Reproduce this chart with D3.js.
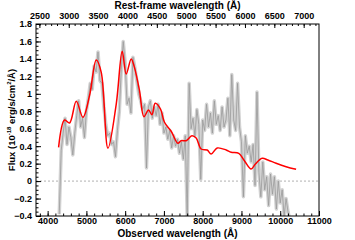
<!DOCTYPE html>
<html>
<head>
<meta charset="utf-8">
<script src="https://cdnjs.cloudflare.com/ajax/libs/d3/7.8.5/d3.min.js"></script>
<style>
	body{margin:0;background:#fff;}
	.chart{width:355px;height:240px;}
	text{font-family:"Liberation Sans",Arial,sans-serif;font-weight:bold;fill:#000;}
</style>
</head>
<body>
<div class="chart"></div>
<script>
//Data
const REDSHIFT_FACTOR = 1.515;

//observed spectrum, 50 A step starting at 4300 A
const specStart = 4300;
const specStep = 50;
const specFlux = [
	-0.38, 0.35, 0.55, 0.72, 0.42, 0.62, 0.50, 0.30, 0.55, 0.75,
	0.92, 0.62, 0.72, 0.50, 0.80, 0.95, 1.12, 1.05, 1.32, 1.25,
	1.48, 1.15, 1.12, 0.85, 0.65, 0.52, 0.55, 0.42, 0.45, 0.28,
	0.58, 0.80, 1.28, 1.60, 1.35, 0.88, 0.95, 0.78, 1.42, 1.30,
	1.15, 1.00, 0.92, 0.82, 0.88, 0.15, 0.85, 0.92, 0.72, 0.85,
	0.75, 0.88, 0.65, 0.78, 0.55, 0.62, 0.48, 0.58, 0.38, 0.52,
	0.40, 0.48, 0.32, 0.45, 0.25, 0.52, -0.40, 1.12, 0.60, 0.72,
	0.52, 0.82, 0.65, 0.02, 0.70, 0.58, 0.88, 0.62, 0.78, 0.55,
	0.92, 0.65, 0.75, 0.58, 0.85, 0.62, 0.70, 0.95, 0.52, 1.22,
	0.70, 0.58, 1.12, 0.62, 0.45, -0.18, 0.52, 0.32, 0.40, 0.22,
	0.42, -0.05, 1.02, 0.10, -0.18, 0.22, -0.10, 0.05, -0.28, 0.08,
	-0.15, 0.05, -0.32, 0.00, -0.25, -0.10, -0.40, -0.20, -0.35, -0.45
];
const specWave = specFlux.map(function(d,i){return specStart + i*specStep});

//smooth model (red)
const modelWave = [4283,4437,4566,4739,4911,5081,5254,5383,5556,5770,5924,6027,6156,6241,6370,6483,6602,6690,6775,6912,
	7014,7187,7360,7445,7574,7721,7832,7960,8115,8218,8373,8605,8734,8932,9076,9249,9360,9533,9680,9894,10151,10409];
const modelFlux = [0.387,0.70,0.666,0.914,0.731,0.979,1.388,1.246,0.376,0.883,1.487,1.227,1.40,1.30,1.036,0.738,0.815,0.761,0.891,0.826,
	0.674,0.571,0.433,0.463,0.463,0.52,0.494,0.368,0.356,0.31,0.379,0.356,0.33,0.318,0.234,0.139,0.196,0.261,0.242,0.204,0.165,0.135];

const xTicks = [4000,5000,6000,7000,8000,9000,10000,11000];
const yTicks = [-0.4,-0.2,0,0.2,0.4,0.6,0.8,1,1.2,1.4,1.6,1.8];
const restTicks = [2500,3000,3500,4000,4500,5000,5500,6000,6500,7000];

//Prep work
const W = 355;
const H = 240;
const margin = {t:24, r:36, b:24, l:36};
const w = W - margin.l - margin.r;
const h = H - margin.t - margin.b;

const svg = d3.select('.chart')
	.append('svg')
		.attr('width', W)
		.attr('height', H);

const plot = svg.append('g')
	.attr('class','plot')
	.attr('transform', `translate(${margin.l}, ${margin.t})`);

const scaleX = d3.scaleLinear().domain([3700, 11000]).range([0, w]);
const scaleRest = d3.scaleLinear().domain([3700/REDSHIFT_FACTOR, 11000/REDSHIFT_FACTOR]).range([0, w]);
const scaleY = d3.scaleLinear().domain([-0.4, 1.8]).range([h, 0]);

svg.append('defs').append('clipPath').attr('id','clip')
	.append('rect').attr('width', w).attr('height', h);

drawData();
drawAxes();

function drawData(){

	//zero line
	plot.append('line')
		.attr('x1', 0).attr('x2', w)
		.attr('y1', scaleY(0)).attr('y2', scaleY(0))
		.style('stroke', '#b0b0b0')
		.style('stroke-width', 1)
		.style('stroke-dasharray', '2,2');

	const spec = specWave.map(function(d,i){return {x:d, y:specFlux[i]}});
	const model = modelWave.map(function(d,i){return {x:d, y:modelFlux[i]}});

	const line = d3.line()
		.x(function(d){return scaleX(d.x)})
		.y(function(d){return scaleY(d.y)});

	const g = plot.append('g').attr('clip-path','url(#clip)');

	g.append('path')
		.datum(spec)
		.attr('d', line)
		.style('fill','none')
		.style('stroke','#d2d2d2')
		.style('stroke-width', 3.5)
		.style('stroke-linejoin','round');

	g.append('path')
		.datum(spec)
		.attr('d', line)
		.style('fill','none')
		.style('stroke','#9a9a9a')
		.style('stroke-width', 0.8);

	g.append('path')
		.datum(model)
		.attr('d', line.curve(d3.curveCatmullRom))
		.style('fill','none')
		.style('stroke','#ff0000')
		.style('stroke-width', 1.5);

}

function drawAxes(){

	const axisStyle = function(sel){
		sel.select('.domain').remove();
		sel.selectAll('line').style('stroke','#000').style('stroke-width',1);
		sel.selectAll('text').style('font-size','9px').style('font-weight','bold');
	};

	//bottom
	plot.append('g')
		.attr('transform', `translate(0, ${h})`)
		.call(d3.axisBottom(scaleX).tickValues(d3.range(3800, 11001, 200)).tickSize(-2.5).tickFormat(''))
		.call(axisStyle);
	plot.append('g')
		.attr('transform', `translate(0, ${h})`)
		.call(d3.axisBottom(scaleX).tickValues(xTicks).tickSize(-5).tickPadding(2).tickFormat(d3.format('d')))
		.call(axisStyle);

	//left
	plot.append('g')
		.call(d3.axisLeft(scaleY).tickValues(d3.range(-0.4, 1.801, 0.05)).tickSize(-2.5).tickFormat(''))
		.call(axisStyle);
	plot.append('g')
		.call(d3.axisLeft(scaleY).tickValues(yTicks).tickSize(-5).tickPadding(4).tickFormat(function(d){return d3.format('')(+d.toFixed(1))}))
		.call(axisStyle);

	//top (rest frame)
	plot.append('g')
		.call(d3.axisTop(scaleRest).tickValues(d3.range(2500, 7201, 100)).tickSize(-2).tickFormat(''))
		.call(axisStyle);
	plot.append('g')
		.call(d3.axisTop(scaleRest).tickValues(restTicks).tickSize(-4).tickPadding(5).tickFormat(d3.format('d')))
		.call(axisStyle);

	//frame
	plot.append('rect')
		.attr('width', w).attr('height', h)
		.style('fill','none')
		.style('stroke','#000')
		.style('stroke-width',1);

	//titles
	svg.append('text')
		.attr('x', margin.l + w/2).attr('y', H - 3)
		.attr('text-anchor','middle')
		.style('font-size','10px')
		.text('Observed wavelength (Å)');

	svg.append('text')
		.attr('x', margin.l + w/2).attr('y', 9)
		.attr('text-anchor','middle')
		.style('font-size','10px')
		.text('Rest-frame wavelength (Å)');

	const yTitle = svg.append('text')
		.attr('transform', `translate(15, ${margin.t + h/2}) rotate(-90)`)
		.attr('text-anchor','middle')
		.style('font-size','9.5px');
	yTitle.append('tspan').text('Flux (10');
	yTitle.append('tspan').attr('dy', -4).style('font-size','6px').text('-18');
	yTitle.append('tspan').attr('dy', 4).text(' erg/s/cm');
	yTitle.append('tspan').attr('dy', -4).style('font-size','6px').text('2');
	yTitle.append('tspan').attr('dy', 4).text('/Å)');

}
</script>
</body>
</html>
